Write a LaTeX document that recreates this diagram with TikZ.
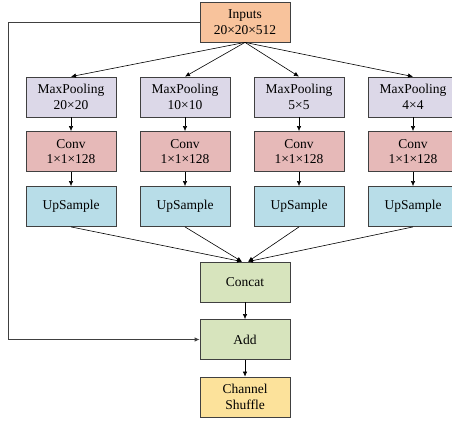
\documentclass[tikz,border=0pt]{standalone}
\usepackage{fontspec}
\setmainfont{Liberation Serif}
\usetikzlibrary{arrows.meta}
\definecolor{cin}{HTML}{F8C39C}
\definecolor{cmp}{HTML}{DCD8E8}
\definecolor{ccv}{HTML}{E6B9B8}
\definecolor{cup}{HTML}{B8DDE8}
\definecolor{cgr}{HTML}{D7E4BD}
\definecolor{cye}{HTML}{FCE29B}
\definecolor{cbd}{HTML}{404040}
\tikzset{
  blk/.style={draw=cbd, line width=0.8pt, minimum width=90pt, minimum height=40pt, inner sep=1pt, align=center, font=\fontsize{13.5}{15.5}\selectfont},
  arr/.style={-{Latex[length=5pt,width=4.5pt]}, line width=0.6pt, draw=black},
}
\begin{document}
\begin{tikzpicture}[x=1pt,y=-1pt]
\useasboundingbox (0,0) rectangle (452,421);
\node[blk, fill=cin] (in) at (245,22) {Inputs\\20×20×512};
\foreach \i/\x/\s in {1/71/20×20, 2/185/10×10, 3/299/5×5, 4/413/4×4} {
  \node[blk, fill=cmp] (mp\i) at (\x,97) {MaxPooling\\\s};
  \node[blk, fill=ccv] (cv\i) at (\x,151.5) {Conv\\1×1×128};
  \node[blk, fill=cup] (up\i) at (\x,206.5) {UpSample};
  \draw[arr] (in.south) -- (mp\i.north);
  \draw[arr] (mp\i) -- (cv\i);
  \draw[arr] (cv\i) -- (up\i);
}
\node[blk, fill=cgr] (cc) at (245,282) {Concat};
\node[blk, fill=cgr] (ad) at (245,339.5) {Add};
\node[blk, fill=cye] (cs) at (245,397) {Channel\\Shuffle};
\coordinate (ccl) at ([xshift=-3pt]cc.north);
\coordinate (ccr) at ([xshift=3pt]cc.north);
\draw[arr] (up1.south) -- (ccl);
\draw[arr] (up2.south) -- (ccl);
\draw[arr] (up3.south) -- (ccr);
\draw[arr] (up4.south) -- (ccr);
\draw[arr] (cc) -- (ad);
\draw[arr] (ad) -- (cs);
\coordinate (k1) at (8.5,22);
\coordinate (k2) at (8.5,339.5);
\draw[arr, draw=cbd, line width=0.8pt] (in.west) -- (k1) -- (k2) -- (ad.west);
\end{tikzpicture}
\end{document}
